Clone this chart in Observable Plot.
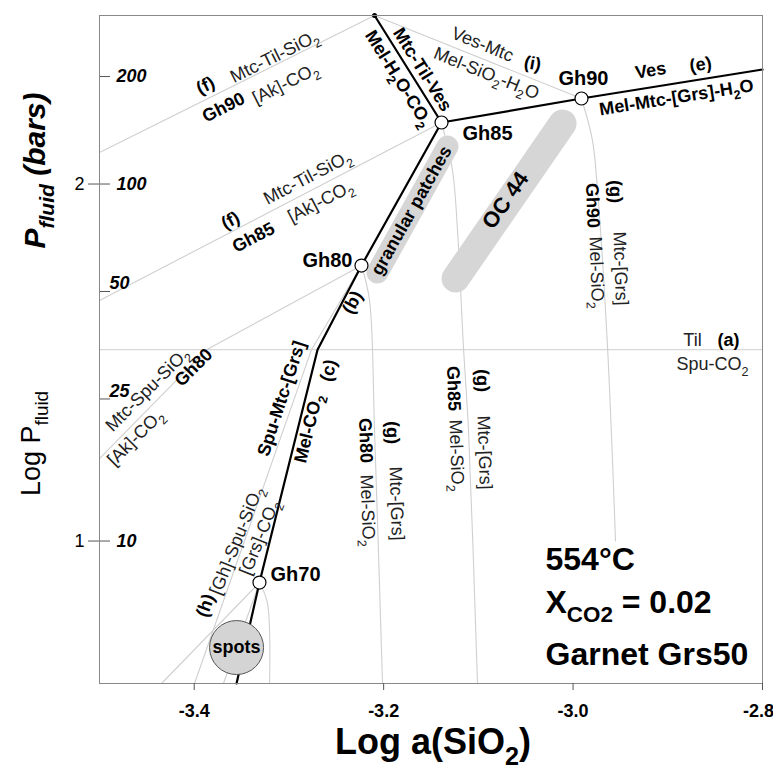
<!DOCTYPE html>
<html>
<head>
<meta charset="utf-8">
<script src="https://cdn.jsdelivr.net/npm/d3@7"></script>
<script src="https://cdn.jsdelivr.net/npm/@observablehq/plot@0.6"></script>
<style>
  html, body { margin: 0; padding: 0; background: #fff; }
  #chart { width: 773px; height: 769px; overflow: hidden; }
</style>
</head>
<body>
<div id="chart"></div>
<script>
// ---- axis ticks ----
const xTicks = [-3.4, -3.2, -3.0, -2.8];
const yTicks = [1, 2];
const pressureTicks = [200, 100, 50, 25, 10];   // bars, shown inside the frame
const aLineLogP = 1.536;                        // reaction (a) Til = Spu-CO2

// ---- invariant points (log aSiO2, log Pfluid) ----
const T    = [-3.2096, 2.472];
const GH85 = [-3.1389, 2.1723];
const GH90 = [-2.9911, 2.2395];
const GH80 = [-3.2234, 1.7717];
const GH70 = [-3.3311, 0.8838];
const KINK = [-3.2698, 1.536];

const nodes = [
  {name: "Gh85", p: GH85}, {name: "Gh90", p: GH90},
  {name: "Gh80", p: GH80}, {name: "Gh70", p: GH70}
];

// ---- stable (bold) reaction curves ----
const thickCurves = [
  {id: "Mtc-Til-Ves", pts: [T, GH85]},
  {id: "Ves", pts: [GH85, GH90, [-2.8, 2.3207]]},
  {id: "b-c", pts: [GH85, GH80, KINK, GH70, [-3.3553, 0.601]]}
];

// ---- thin reaction curves ----
const thinCurves = [
  {id: "f90", pts: [T, [-3.5, 2.0882]]},
  {id: "f85", pts: [GH85, [-3.5, 1.6737]]},
  {id: "i", pts: [T, GH90]},
  {id: "gh80-left", pts: [GH80, [-3.387, 1.536], [-3.5, 1.2311]]},
  {id: "h", pts: [GH80, [-3.2762, 1.536], [-3.3997, 0.601]]},
  {id: "gh70-a", pts: [GH70, [-3.4345, 0.601]]},
  {id: "gh70-b", pts: [GH70, [-3.3691, 0.601]]}
];
const gCurves = [
  {id: "g80", pts: [GH80, [-3.2149, 1.6737], [-3.2096, 1.3095], [-3.2012, 0.601]]},
  {id: "g85", pts: [GH85, [-3.1273, 2.0378], [-3.122, 1.8697], [-3.1157, 1.542], [-3.1104, 1.3095], [-3.1009, 0.601]]},
  {id: "g90", pts: [GH90, [-2.9795, 2.1218], [-2.9742, 1.9818], [-2.9636, 1.542], [-2.9552, 1.0]]},
  {id: "g70", pts: [GH70, [-3.3226, 0.8249], [-3.3205, 0.601]]}
];

// ---- observed assemblages ----
const bands = [
  {name: "granular patches", from: [-3.2065, 1.7521], to: [-3.1326, 2.105]},
  {name: "OC 44", from: [-3.1241, 1.7353], to: [-3.0111, 2.1695]}
];
const spots = [{name: "spots", x: -3.3553, y: 0.7017}];

// ---- labels: [text, x, y, rotation] ----
const regularLabels = [
  ["Mtc-Til-SiO_2", -3.3152, 2.3571, -26.5],
  ["[Ak]-CO_2", -3.3036, 2.2815, -26.5],
  ["Mtc-Til-SiO_2", -3.2804, 2.0182, -27.5],
  ["[Ak]-CO_2", -3.2667, 1.951, -27.5],
  ["Mtc-Spu-SiO_2", -3.4493, 1.4244, -45],
  ["[Ak]-CO_2", -3.462, 1.2899, -45],
  ["Ves-Mtc", -3.0956, 2.3908, 22],
  ["Mel-SiO_2-H_2O", -3.0914, 2.3095, 22],
  ["[Gh]-Spu-SiO_2", -3.3553, 1.0014, -68],
  ["[Grs]-CO_2", -3.3311, 1.0098, -68],
  ["Mel-SiO_2", -2.9752, 1.7521, 88],
  ["Mtc-[Grs]", -2.9499, 1.7633, 88],
  ["Mel-SiO_2", -3.1231, 1.2395, 88],
  ["Mtc-[Grs]", -3.0935, 1.2479, 88],
  ["Mel-SiO_2", -3.217, 1.0854, 88],
  ["Mtc-[Grs]", -3.1864, 1.105, 88],
  ["Til", -2.8739, 1.5616, 0],
  ["Spu-CO_2", -2.8528, 1.4944, 0]
];
const boldLabels = [
  ["(f)", -3.388, 2.2759, -26.5],
  ["Gh90", -3.3691, 2.2143, -26.5],
  ["(f)", -3.3617, 1.8978, -27.5],
  ["Gh85", -3.3374, 1.8501, -27.5],
  ["Gh80", -3.4007, 1.486, -45],
  ["(b)", -3.2329, 1.6681, -62],
  ["Mtc-Til-Ves", -3.159, 2.3207, 58],
  ["Mel-H_2O-CO_2", -3.1843, 2.2955, 58],
  ["(i)", -3.0428, 2.3375, 10],
  ["Ves", -2.9182, 2.3179, -9],
  ["(e)", -2.8654, 2.3347, -9],
  ["Mel-Mtc-[Grs]-H_2O", -2.8908, 2.2423, -9],
  ["(c)", -3.2582, 1.4776, -76],
  ["Spu-Mtc-[Grs]", -3.3078, 1.3992, -72],
  ["Mel-CO_2", -3.2793, 1.3151, -76],
  ["(h)", -3.3881, 0.8193, -70],
  ["Gh90", -2.9795, 1.9398, 88],
  ["(g)", -2.9552, 1.979, 88],
  ["Gh85", -3.1262, 1.4272, 88],
  ["(g)", -3.0956, 1.4496, 88],
  ["Gh80", -3.2191, 1.2815, 88],
  ["(g)", -3.1906, 1.3039, 88],
  ["(a)", -2.8359, 1.5616, 0]
];
const nodeLabels = [
  ["Gh85", -3.0903, 2.1415], ["Gh90", -2.989, 2.2955],
  ["Gh80", -3.2593, 1.7857], ["Gh70", -3.293, 0.9062]
];
const bandLabels = [
  ["granular patches", -3.1706, 1.9258, -60.5],
  ["OC 44", -3.0713, 1.9538, -55]
];
const conditions = ["554°C", "X_{CO2} = 0.02", "Garnet Grs50"];

const flat = arr => arr.flatMap(c => c.pts.map(p => ({id: c.id, x: p[0], y: p[1]})));
const lab = a => ({x: d => d[1], y: d => d[2], text: d => d[0]});

const plot = Plot.plot({
  width: 773, height: 769,
  marginLeft: 99, marginRight: 11, marginTop: 15, marginBottom: 86,
  x: {domain: [-3.5, -2.8]},
  y: {domain: [0.601, 2.472]},
  style: {fontFamily: "'Liberation Sans', Arial, Helvetica, sans-serif", background: "#fff", color: "#000", overflow: "visible"},
  marks: [
    Plot.ruleY([aLineLogP], {stroke: "#d8d8d8", strokeWidth: 1.2}),
    Plot.line(flat(thinCurves), {x: "x", y: "y", z: "id", stroke: "#cfcfcf", strokeWidth: 1.1}),
    Plot.line(flat(gCurves), {x: "x", y: "y", z: "id", stroke: "#cfcfcf", strokeWidth: 1.1, curve: "catmull-rom"}),
    Plot.link([bands[0]], {x1: d => d.from[0], y1: d => d.from[1], x2: d => d.to[0], y2: d => d.to[1], stroke: "#d6d6d6", strokeWidth: 22, strokeLinecap: "round"}),
    Plot.link([bands[1]], {x1: d => d.from[0], y1: d => d.from[1], x2: d => d.to[0], y2: d => d.to[1], stroke: "#d6d6d6", strokeWidth: 28, strokeLinecap: "round"}),
    Plot.line(flat(thickCurves), {x: "x", y: "y", z: "id", stroke: "#000", strokeWidth: 2.2}),
    Plot.dot(spots, {x: "x", y: "y", r: 27, fill: "#d4d4d4", stroke: "#555", strokeWidth: 1}),
    Plot.dot(nodes, {x: d => d.p[0], y: d => d.p[1], r: 6.5, fill: "#fff", stroke: "#000", strokeWidth: 1.2}),
    Plot.dot([T], {x: d => d[0], y: d => d[1], r: 2.5, fill: "#000", stroke: "none"}),
    Plot.tickY(pressureTicks, {y: v => Math.log10(v), insetRight: 652, stroke: "#555"}),
    Plot.frame({stroke: "#888"}),
    Plot.axisX({ticks: xTicks, tickFormat: d => d.toFixed(1), tickSize: 7, tickPadding: 14, fontSize: 18, fontWeight: "bold", label: null, stroke: "#555"}),
    Plot.axisY({ticks: yTicks, tickFormat: d => String(d), tickSize: 11, tickPadding: 4, fontSize: 18, label: null, stroke: "#555"}),
    Plot.text(pressureTicks.filter(v => v === 200 || v === 100 || v === 10), {frameAnchor: "left", y: v => Math.log10(v), text: v => String(v), textAnchor: "start", lineAnchor: "middle", dx: 17, fontSize: 18, fontWeight: "bold", fontStyle: "italic"}),
    Plot.text(pressureTicks.filter(v => v === 50 || v === 25), {frameAnchor: "left", y: v => Math.log10(v), text: v => String(v), textAnchor: "start", lineAnchor: "middle", dx: 10, dy: -8, fontSize: 18, fontWeight: "bold", fontStyle: "italic"}),
    Plot.text(regularLabels, {...lab(), rotate: d => d[3], fontSize: 18, fill: "#222"}),
    Plot.text(boldLabels, {...lab(), rotate: d => d[3], fontSize: 18, fontWeight: "bold"}),
    Plot.text(nodeLabels, {...lab(), fontSize: 20, fontWeight: "bold"}),
    Plot.text([bandLabels[0]], {...lab(), rotate: d => d[3], fontSize: 18, fontWeight: "bold"}),
    Plot.text([bandLabels[1]], {...lab(), rotate: d => d[3], fontSize: 22, fontWeight: "bold"}),
    Plot.text(spots, {x: "x", y: "y", text: "name", fontSize: 18, fontWeight: "bold"}),
    Plot.text([conditions[0]], {frameAnchor: "bottom-right", text: d => d, textAnchor: "start", lineAnchor: "middle", dx: -217, dy: -124, fontSize: 32, fontWeight: "bold"}),
    Plot.text([conditions[1]], {frameAnchor: "bottom-right", text: d => d, textAnchor: "start", lineAnchor: "middle", dx: -217, dy: -81, fontSize: 32, fontWeight: "bold"}),
    Plot.text([conditions[2]], {frameAnchor: "bottom-right", text: d => d, textAnchor: "start", lineAnchor: "middle", dx: -217, dy: -29, fontSize: 32, fontWeight: "bold"}),
    Plot.text(["P_{fluid} (bars)"], {frameAnchor: "left", text: d => d, rotate: -90, textAnchor: "middle", lineAnchor: "middle", dx: -64, dy: -179, fontSize: 30, fontWeight: "bold", fontStyle: "italic"}),
    Plot.text(["Log P_{fluid}"], {frameAnchor: "left", text: d => d, rotate: -90, textAnchor: "middle", lineAnchor: "middle", dx: -68, dy: 94, fontSize: 27}),
    Plot.text(["Log a(SiO_2)"], {frameAnchor: "bottom", text: d => d, textAnchor: "middle", lineAnchor: "middle", dx: 2, dy: 59, fontSize: 36, fontWeight: "bold"})
  ]
});

document.getElementById("chart").appendChild(plot);

// bold x tick labels (in case the option is not forwarded); keep the last one inside the page
plot.querySelectorAll('[aria-label="x-axis tick label"]').forEach(g => {
  g.setAttribute("font-weight", "bold");
  const texts = g.querySelectorAll("text");
  if (texts.length) texts[texts.length - 1].setAttribute("dx", "-4");
});

// turn "_2" / "_{...}" markup into real subscripts
const NS = "http://www.w3.org/2000/svg";
plot.querySelectorAll("text").forEach(t => {
  const s = t.textContent;
  if (!s.includes("_")) return;
  const fs = parseFloat(getComputedStyle(t).fontSize) || 16;
  const shift = fs * 0.3;
  const parts = [];
  const re = /_\{([^}]*)\}|_(.)/g;
  let last = 0, m;
  while ((m = re.exec(s))) {
    if (m.index > last) parts.push({str: s.slice(last, m.index), sub: false});
    parts.push({str: m[1] !== undefined ? m[1] : m[2], sub: true});
    last = re.lastIndex;
  }
  if (last < s.length) parts.push({str: s.slice(last), sub: false});
  t.textContent = "";
  let cur = 0;
  for (const p of parts) {
    const ts = document.createElementNS(NS, "tspan");
    ts.textContent = p.str;
    const target = p.sub ? shift : 0;
    if (target !== cur) ts.setAttribute("dy", target - cur);
    cur = target;
    if (p.sub) ts.setAttribute("font-size", (fs * 0.7) + "px");
    t.appendChild(ts);
  }
});
</script>
</body>
</html>
